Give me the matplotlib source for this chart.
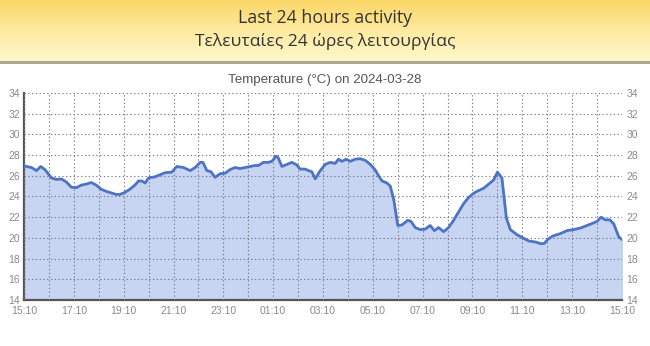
import numpy as np
import matplotlib
matplotlib.use("Agg")
import matplotlib.pyplot as plt
from matplotlib.colors import LinearSegmentedColormap

# hours since 15:10 on the previous day, and temperature in °C
hours = [0.0, 0.3, 0.5, 0.67, 0.84, 1.1, 1.3, 1.5, 1.7, 1.9, 2.1, 2.3, 2.5, 2.7,
         2.9, 3.1, 3.3, 3.5, 3.7, 3.85, 4.05, 4.25, 4.45, 4.6, 4.73, 4.86, 5.0,
         5.26, 5.46, 5.66, 5.93, 6.13, 6.4, 6.67, 6.87, 7.07, 7.18, 7.34, 7.5,
         7.67, 7.87, 8.07, 8.27, 8.47, 8.67, 8.88, 9.08, 9.28, 9.41, 9.61, 9.81,
         9.95, 10.12, 10.2, 10.35, 10.55, 10.75, 10.95, 11.08, 11.28, 11.42,
         11.55, 11.69, 11.86, 12.09, 12.29, 12.49, 12.62, 12.76, 12.93, 13.09,
         13.29, 13.49, 13.69, 13.9, 14.1, 14.23, 14.37, 14.57, 14.7, 14.84, 15.0,
         15.17, 15.4, 15.53, 15.7, 15.9, 16.1, 16.3, 16.47, 16.64, 16.84, 17.04,
         17.24, 17.44, 17.64, 17.84, 18.04, 18.18, 18.45, 18.65, 18.85, 19.0,
         19.18, 19.25, 19.36, 19.52, 19.79, 20.06, 20.26, 20.53, 20.73, 20.87,
         21.04, 21.24, 21.51, 21.79, 22.05, 22.33, 22.6, 22.86, 23.0, 23.16,
         23.33, 23.51, 23.67, 23.87, 24.0]
temps = [26.95, 26.8, 26.5, 26.9, 26.6, 25.8, 25.65, 25.7, 25.4, 24.9, 24.85,
         25.1, 25.2, 25.35, 25.1, 24.7, 24.5, 24.35, 24.2, 24.2, 24.4, 24.7,
         25.1, 25.5, 25.5, 25.3, 25.8, 25.9, 26.1, 26.3, 26.35, 26.9, 26.8,
         26.5, 26.8, 27.3, 27.3, 26.5, 26.4, 25.85, 26.2, 26.25, 26.6, 26.8,
         26.7, 26.8, 26.9, 27.0, 27.0, 27.3, 27.3, 27.4, 27.9, 27.75, 26.9,
         27.1, 27.3, 27.05, 26.65, 26.65, 26.5, 26.4, 25.7, 26.4, 27.1, 27.3,
         27.2, 27.6, 27.4, 27.6, 27.4, 27.6, 27.65, 27.5, 27.1, 26.55, 26.0,
         25.5, 25.3, 25.0, 23.7, 21.2, 21.25, 21.7, 21.6, 21.0, 20.8, 20.85,
         21.2, 20.7, 21.0, 20.6, 21.0, 21.7, 22.5, 23.3, 23.9, 24.3, 24.5, 24.8,
         25.2, 25.6, 26.35, 25.8, 24.3, 21.9, 20.8, 20.3, 19.95, 19.7, 19.6,
         19.45, 19.45, 19.9, 20.2, 20.4, 20.7, 20.8, 20.95, 21.2, 21.45, 21.6,
         22.0, 21.75, 21.75, 21.35, 20.1, 19.85]

tick_hours = [0, 2, 4, 6, 8, 10, 12, 14, 16, 18, 20, 22, 24]
tick_labels = ["15:10", "17:10", "19:10", "21:10", "23:10", "01:10", "03:10",
               "05:10", "07:10", "09:10", "11:10", "13:10", "15:10"]
y_ticks = [14, 16, 18, 20, 22, 24, 26, 28, 30, 32, 34]

W, H = 650, 346
fig = plt.figure(figsize=(W / 100, H / 100), dpi=100)
fig.patch.set_facecolor("white")

# yellow header band with a grey rule under it
hdr = fig.add_axes([0, 1 - 61 / H, 1, 61 / H])
cmap = LinearSegmentedColormap.from_list("hdr", ["#fbd666", "#feeaa0", "#fff7cc"])
hdr.imshow(np.linspace(0, 1, 100)[:, None], aspect="auto", cmap=cmap,
           extent=[0, 1, 0, 1])
hdr.set_xlim(0, 1)
hdr.set_ylim(0, 1)
hdr.axis("off")
sep = fig.add_axes([0, 1 - 64 / H, 1, 3 / H])
sep.set_facecolor("#aaa88e")
sep.set_xticks([])
sep.set_yticks([])
for s in sep.spines.values():
    s.set_visible(False)

fig.text(0.5, 1 - 18 / H, "Last 24 hours activity", ha="center", va="center",
         fontsize=12.8, color="#333333", family="Open Sans")
fig.text(0.5, 1 - 42 / H, "Τελευταίες 24 ώρες λειτουργίας", ha="center",
         va="center", fontsize=12.6, color="#333333", family="Open Sans")

ax = fig.add_axes([24 / W, 46 / H, 598 / W, 207 / H])
ax.fill_between(hours, temps, 14, color="#c7d5f2", zorder=1)
ax.plot(hours, temps, color="#4d74c4", lw=2, zorder=3)

ax.set_xlim(0, 24)
ax.set_ylim(14, 34)
ax.set_xticks(tick_hours)
ax.set_xticklabels(tick_labels)
ax.set_xticks(range(25), minor=True)
ax.set_yticks(y_ticks)
ax.tick_params(axis="both", length=0, labelsize=7.5, colors="#8a8a8a",
               labelfontfamily="Liberation Sans")
ax.tick_params(axis="x", which="both", pad=4)
ax.tick_params(axis="x", which="minor", length=0)
ax.tick_params(axis="y", labelright=True, pad=3)

ax.grid(True, which="both", axis="x", color="#7a7a8a", lw=0.8,
        linestyle=(0, (1.2, 2.2)), zorder=2)
ax.grid(True, axis="y", color="#7a7a8a", lw=0.8, linestyle=(0, (1.2, 2.2)),
        zorder=2)
ax.set_axisbelow(False)

ax.spines["top"].set_visible(False)
ax.spines["right"].set_visible(False)
ax.spines["left"].set_color("#555555")
ax.spines["left"].set_linewidth(1.6)
ax.spines["bottom"].set_color("#555555")
ax.spines["bottom"].set_linewidth(1.6)

fig.text(0.5, 1 - 80 / H, "Temperature (°C) on 2024-03-28", ha="center",
         va="center", fontsize=9.6, color="#555555", family="Liberation Sans")

fig.savefig("out.png", dpi=100)
